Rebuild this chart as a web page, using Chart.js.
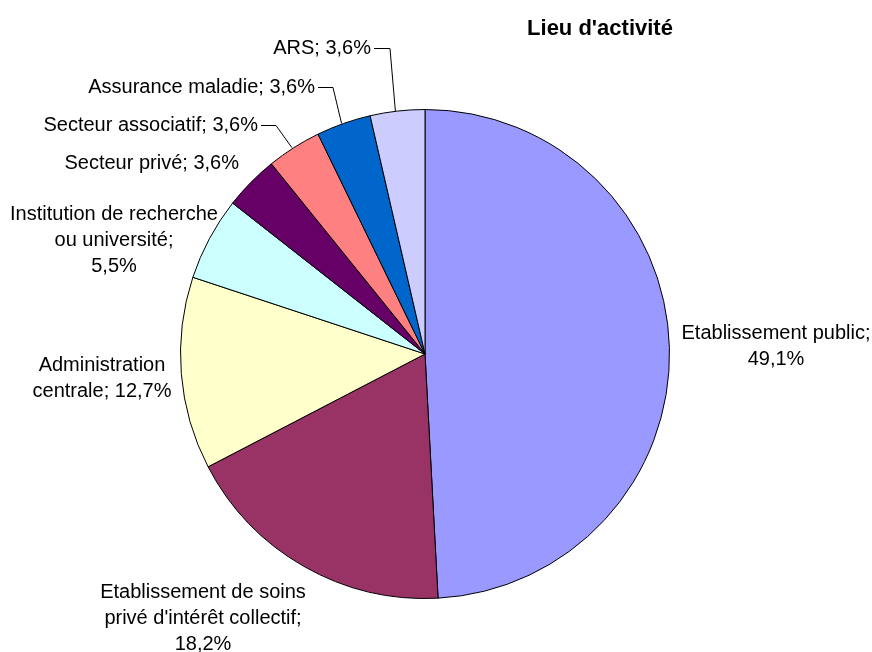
<!DOCTYPE html>
<html>
<head>
<meta charset="utf-8">
<script src="https://cdn.jsdelivr.net/npm/chart.js@4"></script>
<style>
  html, body { margin: 0; padding: 0; background: #fff; }
  #wrap { width: 872px; height: 652px; }
</style>
</head>
<body>
<div id="wrap"><canvas id="pie" width="872" height="652"></canvas></div>
<script>
const categories = [
  'Etablissement public',
  "Etablissement de soins privé d'intérêt collectif",
  'Administration centrale',
  'Institution de recherche ou université',
  'Secteur privé',
  'Secteur associatif',
  'Assurance maladie',
  'ARS'
];
const shares = [49.1, 18.2, 12.7, 5.5, 3.6, 3.6, 3.6, 3.6];
const colors = ['#9999FF', '#993366', '#FFFFCC', '#CCFFFF', '#660066', '#FF8080', '#0066CC', '#CCCCFF'];

// label layout: text lines, anchor x, first line y, align, leader elbow x (optional)
const labelLayout = [
  { lines: ['Etablissement public;', '49,1%'], x: 776, y: 333, align: 'center' },
  { lines: ['Etablissement de soins', "privé d'intérêt collectif;", '18,2%'], x: 203, y: 592, align: 'center' },
  { lines: ['Administration', 'centrale; 12,7%'], x: 102, y: 365, align: 'center' },
  { lines: ['Institution de recherche', 'ou université;', '5,5%'], x: 114, y: 214, align: 'center' },
  { lines: ['Secteur privé; 3,6%'], x: 239, y: 163, align: 'right' },
  { lines: ['Secteur associatif; 3,6%'], x: 258, y: 125, align: 'right', leader: 276 },
  { lines: ['Assurance maladie; 3,6%'], x: 315, y: 87, align: 'right', leader: 333 },
  { lines: ['ARS; 3,6%'], x: 371, y: 48, align: 'right', leader: 390 }
];

const labelPlugin = {
  id: 'pieLabels',
  afterDraw(chart) {
    const ctx = chart.ctx;
    const arcs = chart.getDatasetMeta(0).data;
    ctx.save();
    ctx.fillStyle = '#000';
    ctx.font = '20px "Liberation Sans", Arial, sans-serif';
    ctx.textBaseline = 'middle';
    labelLayout.forEach((l, i) => {
      ctx.textAlign = l.align;
      l.lines.forEach((t, k) => ctx.fillText(t, l.x, l.y + k * 26));
      if (l.leader) {
        const p = arcs[i].getProps(['x', 'y', 'startAngle', 'endAngle', 'outerRadius'], true);
        const mid = (p.startAngle + p.endAngle) / 2;
        const ex = p.x + Math.cos(mid) * p.outerRadius;
        const ey = p.y + Math.sin(mid) * p.outerRadius;
        ctx.strokeStyle = '#000';
        ctx.lineWidth = 1;
        ctx.beginPath();
        ctx.moveTo(l.x + 3, l.y + 0.5);
        ctx.lineTo(l.leader, l.y + 0.5);
        ctx.lineTo(ex - 2, ey);
        ctx.stroke();
      }
    });
    ctx.font = 'bold 22px "Liberation Sans", Arial, sans-serif';
    ctx.textAlign = 'center';
    ctx.fillText("Lieu d'activité", 600, 29);
    ctx.restore();
  }
};

new Chart(document.getElementById('pie'), {
  type: 'pie',
  data: {
    labels: categories,
    datasets: [{
      data: shares,
      backgroundColor: colors,
      borderColor: '#000',
      borderWidth: 1
    }]
  },
  options: {
    responsive: false,
    animation: false,
    layout: { padding: { top: 109, bottom: 53, left: 180, right: 202 } },
    plugins: {
      legend: { display: false },
      title: { display: false },
      tooltip: { enabled: false }
    }
  },
  plugins: [labelPlugin]
});
</script>
</body>
</html>
